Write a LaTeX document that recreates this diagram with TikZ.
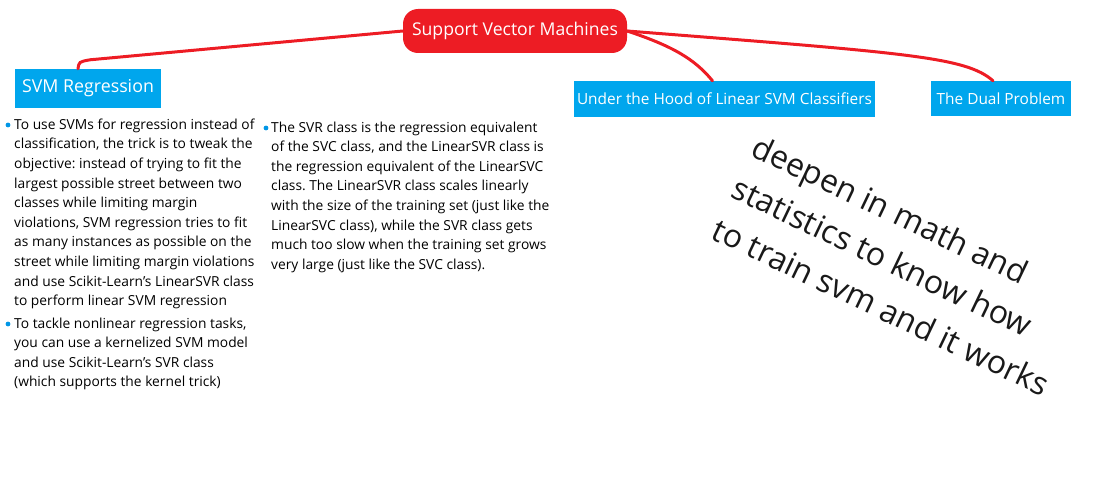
\documentclass[tikz,border=0pt]{standalone}
\usepackage{fontspec}
\setmainfont{Open Sans}
\frenchspacing
\usetikzlibrary{shapes}
\usetikzlibrary{positioning}
\usetikzlibrary{calc}
\definecolor{mapred}{RGB}{237,28,36}
\definecolor{mapblue}{RGB}{0,166,237}
\definecolor{dotblue}{RGB}{0,150,230}

\begin{document}
\begin{tikzpicture}[x=1pt,y=-1pt]
        \tikzstyle{root}=[fill=mapred, text=white, rounded corners=15pt, inner sep=0pt, minimum width=224pt, minimum height=44pt, font=\fontsize{17.6}{20}\selectfont]
        \tikzstyle{topic}=[fill=mapblue, text=white, inner sep=0pt, font=\fontsize{15.4}{18}\selectfont]
        \tikzstyle{notes}=[anchor=north west, align=left, inner sep=0pt, font=\fontsize{13.8}{19.6}\selectfont]
        \tikzstyle{bulletdot}=[circle, fill=dotblue, inner sep=0pt, minimum size=4.8pt]
        \tikzstyle{branch}=[draw=mapred, line width=3pt, line cap=round]
        \useasboundingbox (0,0) rectangle (1096,492);
        \node[root] (svm) at (515,31) {Support Vector Machines};
        \node[topic, minimum width=146pt, minimum height=39pt, font=\fontsize{17.8}{20}\selectfont] (regression) at (88,88.5) {SVM Regression};
        \node[topic, minimum width=301pt, minimum height=36pt] (hood) at (724.5,99) {Under the Hood of Linear SVM Classifiers};
        \node[topic, minimum width=140pt, minimum height=35pt] (dual) at (1001,98.5) {The Dual Problem};
        \path [branch] (svm.west) -- ($ (regression.north) + (2,-9) $) .. controls ($ (regression.north) + (-9,-7) $) .. ($ (regression.north) + (-10,0) $);
        \path [branch] (svm.east) .. controls ($ (svm.east) + (45,15) $) and ($ (hood.north) + (-30,-22) $) .. ($ (hood.north) + (-12,0) $);
        \path [branch] (svm.east) .. controls ($ (svm.east) + (280,22) $) and ($ (dual.north) + (-35,-24) $) .. ($ (dual.north) + (-8,0) $);
        \node[notes] (svmreg) at (14,118.5) {To use SVMs for regression instead of\\classification, the trick is to tweak the\\objective: instead of trying to fit the\\largest possible street between two\\classes while limiting margin\\violations, SVM regression tries to fit\\as many instances as possible on the\\street while limiting margin violations\\and use Scikit-Learn’s LinearSVR class\\to perform linear SVM regression};
        \node[notes] (nonlinear) at (14,317.5) {To tackle nonlinear regression tasks,\\you can use a kernelized SVM model\\and use Scikit-Learn’s SVR class\\(which supports the kernel trick)};
        \node[notes] (svrclass) at (271,121.5) {The SVR class is the regression equivalent\\of the SVC class, and the LinearSVR class is\\the regression equivalent of the LinearSVC\\class. The LinearSVR class scales linearly\\with the size of the training set (just like the\\LinearSVC class), while the SVR class gets\\much too slow when the training set grows\\very large (just like the SVC class).};
        \node[bulletdot] (dot1) at ($ (svmreg.north west) + (-6,6.5) $) {};
        \node[bulletdot] (dot2) at ($ (nonlinear.north west) + (-6,6.5) $) {};
        \node[bulletdot] (dot3) at ($ (svrclass.north west) + (-5,6.5) $) {};
        \node[rotate=-25.5, align=left, text=black!90, inner sep=0pt, font=\fontsize{32}{46}\selectfont] (deepen) at (901,265) {deepen in math and\\statistics to know how\\to train svm and it works};
      \end{tikzpicture}
\end{document}
